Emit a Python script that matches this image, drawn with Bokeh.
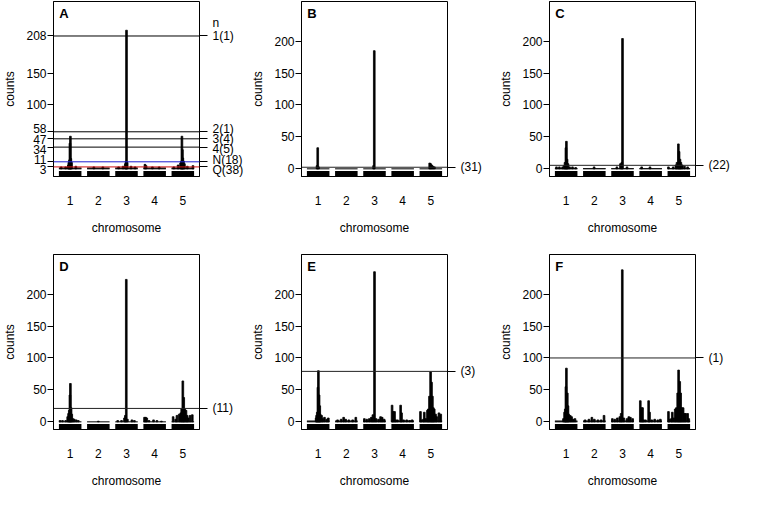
from bokeh.plotting import figure
from bokeh.models import Range1d, FixedTicker, LinearAxis, Span, Label
from bokeh.layouts import row, column
from bokeh.embed import file_html
from bokeh.resources import INLINE

# ---------------- data ----------------
CHROMS = [1, 2, 3, 4, 5]
X_TICK_LABELS = ["1", "2", "3", "4", "5"]
Y_TICKS = [0, 50, 100, 150, 200]

# Panel A
A_chrom = [1]*10 + [2]*2 + [3]*8 + [4]*4 + [5]*11
A_pos = [0.10, 0.30, 0.42, 0.44, 0.47, 0.49, 0.51, 0.53, 0.56, 0.75,
         0.30, 0.70,
         0.15, 0.35, 0.45, 0.48, 0.50, 0.53, 0.70, 0.88,
         0.07, 0.12, 0.40, 0.70,
         0.10, 0.29, 0.40, 0.43, 0.46, 0.48, 0.50, 0.53, 0.57, 0.70, 0.95]
A_count = [3, 3, 6, 10, 14, 40, 51, 16, 10, 4,
           3, 3,
           3, 4, 8, 12, 217, 10, 4, 3,
           7, 5, 3, 3,
           3, 6, 9, 12, 51, 30, 17, 12, 8, 4, 5]
A_base = 2
A_lines = [208, 58, 47, 34, 11, 3]
A_line_labels = ["1(1)", "2(1)", "3(4)", "4(5)", "N(18)", "Q(38)"]
A_line_colors = ["black", "black", "black", "black", "#1f1fd0", "#d01010"]
A_header = "n"
A_left_ticks = [3, 11, 34, 47, 58, 100, 150, 208]

# Panel B
B_chrom = [1]*3 + [3]*2 + [5]*5
B_pos = [0.45, 0.48, 0.52,
         0.46, 0.49,
         0.45, 0.49, 0.54, 0.60, 0.66]
B_count = [5, 33, 3,
           5, 185,
           9, 8, 6, 4, 3]
B_base = 0
B_line = 2.5
B_line_label = "(31)"

# Panel C
C_chrom = [1]*12 + [2]*1 + [3]*5 + [4]*2 + [5]*11
C_pos = [0.07, 0.20, 0.34, 0.41, 0.45, 0.49, 0.51, 0.54, 0.58, 0.65, 0.78, 0.92,
         0.49,
         0.25, 0.41, 0.47, 0.50, 0.70,
         0.10, 0.47,
         0.04, 0.25, 0.37, 0.42, 0.48, 0.51, 0.55, 0.59, 0.65, 0.75, 0.89]
C_count = [3, 3, 3, 5, 10, 33, 43, 15, 8, 3, 3, 2,
           3,
           3, 8, 10, 204, 3,
           3, 3,
           3, 3, 6, 10, 39, 27, 15, 10, 6, 4, 3]
C_base = 1.5
C_line = 5.5
C_line_label = "(22)"

# Panel D
D_chrom = [1]*14 + [2]*1 + [3]*8 + [4]*7 + [5]*14
D_pos = [0.05, 0.16, 0.30, 0.39, 0.43, 0.46, 0.49, 0.51, 0.54, 0.57, 0.62, 0.68, 0.77, 0.86,
         0.50,
         0.11, 0.28, 0.41, 0.45, 0.49, 0.54, 0.74, 0.85,
         0.05, 0.10, 0.15, 0.25, 0.45, 0.60, 0.80,
         0.07, 0.18, 0.24, 0.34, 0.41, 0.45, 0.50, 0.54, 0.58, 0.64, 0.69, 0.74, 0.82, 0.92]
D_count = [2, 2, 2, 8, 13, 18, 42, 60, 22, 12, 5, 4, 3, 2,
           1,
           2, 2, 6, 10, 223, 4, 3, 2,
           7, 7, 6, 2, 3, 2, 1,
           8, 4, 10, 12, 14, 20, 64, 38, 20, 18, 10, 6, 10, 11]
D_base = 0
D_line = 21
D_line_label = "(11)"

# Panel E
E_chrom = [1]*13 + [2]*7 + [3]*11 + [4]*11 + [5]*17
E_pos = [0.41, 0.43, 0.46, 0.49, 0.51, 0.54, 0.57, 0.59, 0.65, 0.70, 0.78, 0.88, 0.95,
         0.11, 0.27, 0.38, 0.47, 0.61, 0.78, 0.92,
         0.05, 0.16, 0.27, 0.36, 0.43, 0.50, 0.57, 0.68, 0.77, 0.84, 0.93,
         0.03, 0.08, 0.14, 0.19, 0.27, 0.41, 0.45, 0.54, 0.68, 0.81, 0.92,
         0.04, 0.08, 0.17, 0.21, 0.28, 0.35, 0.39, 0.44, 0.49, 0.53, 0.57, 0.61, 0.65,
         0.71, 0.76, 0.86, 0.94]
E_count = [6, 10, 15, 54, 80, 42, 25, 12, 10, 5, 7, 4, 6,
           3, 4, 7, 4, 3, 3, 7,
           5, 4, 5, 7, 11, 235, 5, 4, 8, 7, 4,
           26, 16, 16, 3, 3, 26, 14, 3, 3, 2, 3,
           16, 3, 4, 15, 5, 18, 20, 40, 78, 62, 40, 22, 20, 12, 8, 14, 12]
E_base = 2
E_line = 79
E_line_label = "(3)"

# Panel F
F_chrom = [1]*12 + [2]*7 + [3]*11 + [4]*11 + [5]*17
F_pos = [0.38, 0.43, 0.46, 0.49, 0.51, 0.55, 0.58, 0.61, 0.68, 0.74, 0.81, 0.89,
         0.09, 0.26, 0.39, 0.50, 0.66, 0.80, 0.93,
         0.05, 0.16, 0.27, 0.38, 0.44, 0.49, 0.56, 0.70, 0.78, 0.85, 0.95,
         0.04, 0.10, 0.14, 0.19, 0.27, 0.41, 0.45, 0.55, 0.68, 0.82, 0.93,
         0.04, 0.08, 0.17, 0.21, 0.28, 0.34, 0.39, 0.45, 0.49, 0.54, 0.58, 0.63, 0.69,
         0.75, 0.80, 0.89, 0.94]
F_count = [5, 15, 20, 55, 84, 45, 25, 12, 10, 8, 4, 5,
           3, 4, 7, 4, 3, 3, 10,
           5, 4, 6, 8, 13, 238, 6, 5, 8, 7, 5,
           33, 22, 22, 3, 3, 33, 15, 3, 4, 3, 4,
           16, 4, 5, 15, 6, 20, 22, 45, 81, 63, 45, 22, 22, 13, 13, 13, 5]
F_base = 2
F_line = 100
F_line_label = "(1)"

# ---------------- layout / style ----------------
X0, X1 = 0.408, 5.592
Y0, Y1 = -12, 262
FRAME_W, FRAME_H = 152, 178
HALF = 0.4
BLOCK_TOP = -3.2
FONT = "Liberation Sans"
PPX = FRAME_W / (X1 - X0)
PPY = FRAME_H / (Y1 - Y0)
LABEL_GAP = 10.4


def spread(vals, gap):
    vs = sorted(vals)
    px = [(v - Y0) * PPY for v in vs]
    pos = px[:]
    groups = [[i] for i in range(len(vs))]
    changed = True
    while changed:
        changed = False
        for k in range(len(groups) - 1):
            g1, g2 = groups[k], groups[k + 1]
            if pos[g2[0]] - pos[g1[-1]] < gap:
                merged = g1 + g2
                m = sum(px[i] for i in merged) / len(merged)
                n = len(merged)
                for j, i in enumerate(merged):
                    pos[i] = m + (j - (n - 1) / 2) * gap
                groups[k:k + 2] = [merged]
                changed = True
                break
    return {vs[i]: round(Y0 + pos[i] / PPY, 4) for i in range(len(vs))}


def style_axis(ax):
    ax.axis_line_color = "black"
    ax.major_tick_line_color = "black"
    ax.major_tick_in = 0
    ax.minor_tick_out = 0
    ax.minor_tick_in = 0
    ax.major_label_text_color = "black"
    ax.major_label_text_font = FONT
    ax.major_label_text_font_size = "12px"
    ax.axis_label_text_font = FONT
    ax.axis_label_text_font_size = "12px"
    ax.axis_label_text_font_style = "normal"
    ax.axis_label_text_color = "black"


def make_panel(letter, chrom, pos, count, base, width, height, left, right, top, bottom):
    p = figure(width=width, height=height, x_range=Range1d(X0, X1), y_range=Range1d(Y0, Y1),
               toolbar_location=None, output_backend="svg", title=None,
               min_border_left=left, min_border_right=right,
               min_border_top=top, min_border_bottom=bottom,
               background_fill_color="white", border_fill_color="white")
    p.xgrid.visible = False
    p.ygrid.visible = False
    p.outline_line_color = "black"
    p.outline_line_alpha = 1
    p.outline_line_width = 1

    xa = p.xaxis[0]
    style_axis(xa)
    xa.ticker = FixedTicker(ticks=CHROMS)
    xa.major_label_overrides = {c: l for c, l in zip(CHROMS, X_TICK_LABELS)}
    xa.major_tick_out = 0
    xa.major_label_standoff = 19
    xa.axis_label = "chromosome"
    xa.axis_label_standoff = 13

    ya = p.yaxis[0]
    style_axis(ya)
    ya.ticker = FixedTicker(ticks=Y_TICKS)
    ya.major_tick_out = 6
    ya.major_label_standoff = 1
    ya.axis_label = "counts"
    ya.axis_label_standoff = 6

    # chromosome blocks, baselines and background counts
    p.quad(left=[c - HALF for c in CHROMS], right=[c + HALF for c in CHROMS],
           bottom=[Y0 - 2] * 5, top=[BLOCK_TOP] * 5,
           fill_color="black", line_color=None)
    p.segment(x0=[c - HALF for c in CHROMS], x1=[c + HALF for c in CHROMS],
              y0=[0] * 5, y1=[0] * 5, line_color="black", line_width=1)
    if base > 0:
        p.quad(left=[c - HALF for c in CHROMS], right=[c + HALF for c in CHROMS],
               bottom=[0] * 5, top=[base] * 5, fill_color="black", line_color=None)

    xs = [c - HALF + 2 * HALF * r for c, r in zip(chrom, pos)]
    p.vbar(x=xs, top=count, bottom=0, width=0.06,
           fill_color="black", line_color="black", line_width=0.8)

    p.add_layout(Label(x=X0 + 6 / PPX, y=Y1 - 5 / PPY, text=letter,
                       text_font=FONT, text_font_size="13px", text_font_style="bold",
                       text_align="left", text_baseline="top", text_color="black"))
    return p


def right_axis(p, ticks, overrides, tick_out=8, standoff=5):
    ax = LinearAxis(ticker=FixedTicker(ticks=ticks), major_label_overrides=overrides)
    style_axis(ax)
    ax.major_tick_out = tick_out
    ax.major_label_standoff = standoff
    ax.axis_line_color = None
    p.add_layout(ax, "right")
    return ax


ROW1 = dict(height=237, top=1, bottom=58)
ROW2 = dict(height=253, top=17, bottom=58)
COL = [dict(width=248, left=47, right=49), dict(width=248, left=47, right=49),
       dict(width=245, left=47, right=46)]

# ---- Panel A ----
pA = make_panel("A", A_chrom, A_pos, A_count, A_base, **COL[0], **ROW1)
# tick marks at the line values (no text), then a second axis carrying the spread labels
ya = pA.yaxis[0]
ya.ticker = FixedTicker(ticks=A_left_ticks)
ya.major_label_overrides = {v: "" for v in A_left_ticks}
ya.major_label_standoff = 0
ya.axis_label = None
left_pos = spread(A_left_ticks, LABEL_GAP)
ya2 = LinearAxis(ticker=FixedTicker(ticks=[left_pos[v] for v in A_left_ticks]),
                 major_label_overrides={left_pos[v]: str(v) for v in A_left_ticks})
style_axis(ya2)
ya2.axis_line_color = None
ya2.major_tick_out = 0
ya2.major_label_standoff = 1
ya2.axis_label = "counts"
ya2.axis_label_standoff = 6
pA.add_layout(ya2, "left")

for v, c in zip(A_lines, A_line_colors):
    pA.add_layout(Span(location=v, dimension="width", line_color=c, line_width=1))
right_axis(pA, A_lines, {v: "" for v in A_lines}, tick_out=8, standoff=0)
right_pos = spread(A_lines, LABEL_GAP)
header_pos = round(right_pos[max(A_lines)] + 13 / PPY, 4)
rticks = [right_pos[v] for v in A_lines] + [header_pos]
rlabels = {right_pos[v]: t for v, t in zip(A_lines, A_line_labels)}
rlabels[header_pos] = A_header
right_axis(pA, rticks, rlabels, tick_out=0, standoff=5)


def simple_panel(letter, chrom, pos, count, base, line, label, col, rw):
    p = make_panel(letter, chrom, pos, count, base, **col, **rw)
    p.add_layout(Span(location=line, dimension="width", line_color="#222222", line_width=1))
    right_axis(p, [line], {line: label})
    return p


pB = simple_panel("B", B_chrom, B_pos, B_count, B_base, B_line, B_line_label, COL[1], ROW1)
pC = simple_panel("C", C_chrom, C_pos, C_count, C_base, C_line, C_line_label, COL[2], ROW1)
pD = simple_panel("D", D_chrom, D_pos, D_count, D_base, D_line, D_line_label, COL[0], ROW2)
pE = simple_panel("E", E_chrom, E_pos, E_count, E_base, E_line, E_line_label, COL[1], ROW2)
pF = simple_panel("F", F_chrom, F_pos, F_count, F_base, F_line, F_line_label, COL[2], ROW2)

layout = column(row(pA, pB, pC), row(pD, pE, pF))
open("out.html", "w").write(file_html(layout, INLINE))
